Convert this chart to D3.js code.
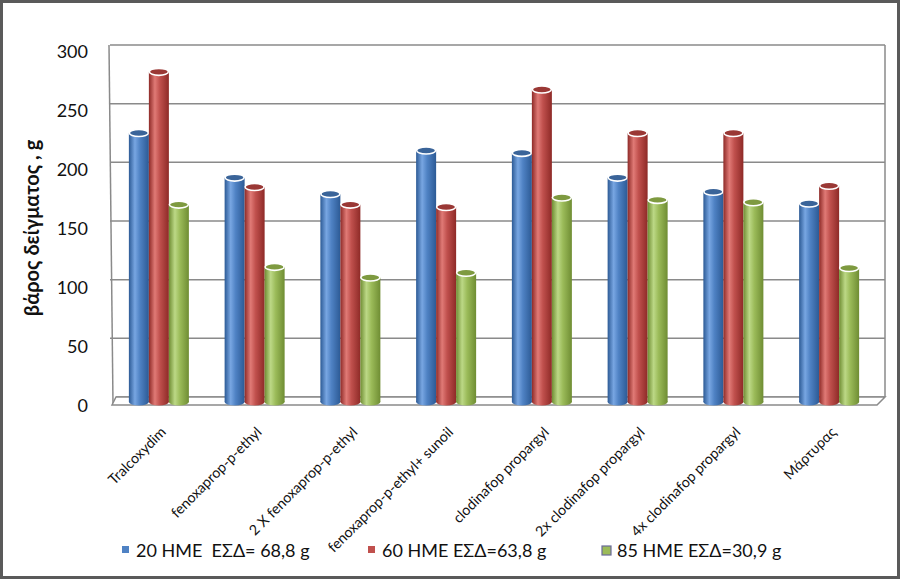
<!DOCTYPE html>
<html><head><meta charset="utf-8">
<script src="https://cdn.jsdelivr.net/npm/d3@7/dist/d3.min.js"></script>
<style>body{margin:0;background:#fff}svg{display:block}</style>
</head><body>
<svg id="c" width="903" height="581"></svg>
<script>
const categories = ["Tralcoxydim","fenoxaprop-p-ethyl","2 X fenoxaprop-p-ethyl","fenoxaprop-p-ethyl+ sunoil","clodinafop propargyl","2x clodinafop propargyl","4x clodinafop propargyl","Μάρτυρας"];
const seriesNames = ["20 HME  ΕΣΔ= 68,8 g","60 HME ΕΣΔ=63,8 g","85 HME ΕΣΔ=30,9 g"];
const s20 = [229,191,177,214,212,191,179,169];
const s60 = [281,183,168,166,266,229,229,184];
const s85 = [168,115,106,110,174,172,170,114];
const yTicks = [0,50,100,150,200,250,300];
const yTitle = "βάρος δείγματος , g";

const series = [s20,s60,s85];
const colors = [
  {dark:"#2c5a95", mid:"#4f82c4", light:"#78a6e2", top:"#3a6499"},
  {dark:"#8e2a27", mid:"#c0504d", light:"#e07a76", top:"#9a3835"},
  {dark:"#6f8d33", mid:"#9bbb59", light:"#bcd886", top:"#7e9a40"}
];
const font = "Lato, 'Open Sans', sans-serif";
const svg = d3.select("#c");

// frame
svg.append("rect").attr("x",1.5).attr("y",1.5).attr("width",897).attr("height",576)
  .attr("fill","#fff").attr("stroke","#5a5a5a").attr("stroke-width",3);

const defs = svg.append("defs");
colors.forEach((c,i)=>{
  const g = defs.append("linearGradient").attr("id","g"+i).attr("x1","0").attr("x2","1").attr("y1","0").attr("y2","0");
  g.append("stop").attr("offset","0%").attr("stop-color",c.dark);
  g.append("stop").attr("offset","30%").attr("stop-color",c.light);
  g.append("stop").attr("offset","55%").attr("stop-color",c.mid);
  g.append("stop").attr("offset","100%").attr("stop-color",c.dark);
});

// scales
const yWall = d3.scaleLinear().domain([0,300]).range([397,45]);
const yBar = d3.scaleLinear().domain([0,300]).range([402,49.5]);
const yLab = d3.scaleLinear().domain([0,300]).range([407,53]);
const x = d3.scaleBand().domain(categories).range([111,877]).padding(0);
const xs = d3.scaleBand().domain([0,1,2]).range([-30,30]);

// wall + gridlines
const grid = svg.append("g");
yTicks.forEach(t=>{
  grid.append("line").attr("x1",110+ (t===0?6:0)).attr("x2",885)
    .attr("y1",yWall(t)).attr("y2",yWall(t))
    .attr("stroke","#8a8a8a").attr("stroke-width",1.5);
});
grid.append("line").attr("x1",109).attr("y1",yWall(300)).attr("x2",113).attr("y2",404)
  .attr("stroke","#8a8a8a").attr("stroke-width",1.5);
grid.append("line").attr("x1",885).attr("y1",yWall(300)).attr("x2",885).attr("y2",yWall(0))
  .attr("stroke","#8a8a8a").attr("stroke-width",1.5);
// floor
svg.append("path")
  .attr("d",`M116,${yWall(0)} L885,${yWall(0)} L877,405 L112,405 Z`)
  .attr("fill","#fff").attr("stroke","#8a8a8a").attr("stroke-width",1.5);

// y tick labels
svg.append("g").selectAll("text").data(yTicks).join("text")
  .attr("x",88).attr("y",d=>yLab(d)).attr("text-anchor","end").attr("dominant-baseline","middle")
  .attr("font-family",font).attr("font-size",18).attr("fill","#111").text(d=>d);

// y title
svg.append("text").attr("transform","translate(39,228) rotate(-90)")
  .attr("text-anchor","middle").attr("font-family",font).attr("font-size",20).attr("font-weight","bold")
  .attr("fill","#111").text(yTitle);

// bars (cylinders)
const rx = 10, ry = 3.5;
const bars = svg.append("g");
categories.forEach((cat,ci)=>{
  series.forEach((s,si)=>{
    const cx = x(cat) + x.bandwidth()/2 + xs(si) + xs.bandwidth()/2;
    const yt = yBar(s[ci]), yb = yBar(0);
    const g = bars.append("g");
    g.append("ellipse").attr("cx",cx).attr("cy",yb).attr("rx",rx).attr("ry",ry).attr("fill","url(#g"+si+")");
    g.append("rect").attr("x",cx-rx).attr("y",yt).attr("width",2*rx).attr("height",yb-yt).attr("fill","url(#g"+si+")");
    g.append("ellipse").attr("cx",cx).attr("cy",yt).attr("rx",rx-0.5).attr("ry",ry)
      .attr("fill",colors[si].top).attr("stroke","#ffffff").attr("stroke-width",1.6);
  });
});

// category labels
svg.append("g").selectAll("text").data(categories).join("text")
  .attr("transform",d=>`translate(${x(d)+x.bandwidth()/2+8},433) rotate(-45)`)
  .attr("text-anchor","end").attr("font-family",font).attr("font-size",14.3).attr("fill","#111").text(d=>d);

// legend
const legX = [122,368,602];
const lg = svg.append("g");
seriesNames.forEach((n,i)=>{
  lg.append("rect").attr("x",legX[i]).attr("y",546).attr("width",i===2?9:7).attr("height",i===2?9:7)
    .attr("fill",colors[i].mid).attr("stroke",i===2?"#6a6a9a":"none").attr("stroke-width",1.2);
  lg.append("text").attr("x",legX[i]+(i===2?15:14)).attr("y",557).attr("font-family",font).attr("font-size",18)
    .attr("xml:space","preserve").style("white-space","pre")
    .attr("fill","#111").text(n);
});
</script>
</body></html>
